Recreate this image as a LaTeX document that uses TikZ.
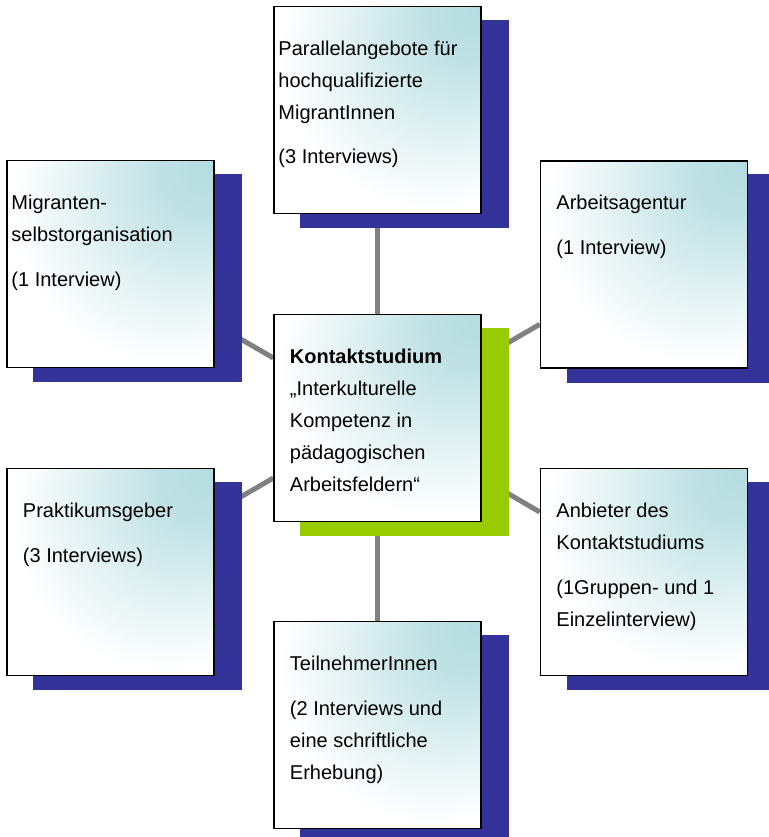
\documentclass[tikz,border=0pt]{standalone}
\usepackage{fontspec}
\setmainfont{Liberation Sans}
\usetikzlibrary{backgrounds}
\definecolor{boxcyan}{HTML}{B4DCE0}
\definecolor{shadowblue}{HTML}{333399}
\definecolor{shadowgreen}{HTML}{99CC00}
\definecolor{linkgray}{HTML}{808080}
\pgfdeclareradialshading{boxshade}{\pgfpoint{25bp}{25bp}}{color(0bp)=(boxcyan); color(10bp)=(boxcyan!85); color(24bp)=(boxcyan!40); color(37bp)=(white); color(80bp)=(white)}
\def\boxshadow[#1](#2){\fill[#1] ([shift={(27,14)}]#2.north west) rectangle ([shift={(27,14)}]#2.south east);}
\tikzset{
  box/.style={draw=black, line width=1.5pt, minimum width=207pt, minimum height=207pt, inner sep=0pt,
    shade, shading=boxshade},
  boxtext/.style={anchor=north west, inner sep=0pt, align=left, font=\fontsize{20}{32}\selectfont},
  link/.style={draw=linkgray, line width=5pt}
}

\begin{document}
\begin{tikzpicture}[x=1pt, y=-1pt]
			%%%%% FRAME %%%%%
			\useasboundingbox (0, 0) rectangle (768, 837);
			
			%%%%% BOXES %%%%%
			\node[box] (ctr) at (377.5, 418) {};
			\node[box] (par) at (377.5, 110) {};
			\node[box] (mso) at (110.5, 264) {};
			\node[box] (aag) at (644, 264.5) {};
			\node[box] (prk) at (110.5, 572) {};
			\node[box] (anb) at (644, 572) {};
			\node[box] (tln) at (377.5, 725) {};
			
			%%%%% TEXTS %%%%%
			\node[boxtext] (ctr-txt) at ([shift={(16.5, 35)}]ctr.north west)
				{\textbf{Kontaktstudium}\\„Interkulturelle\\Kompetenz in\\pädagogischen\\Arbeitsfeldern“};
			\node[boxtext] (par-txt) at ([shift={(5, 35)}]par.north west)
				{Parallelangebote für\\hochqualifizierte\\MigrantInnen\\[12pt](3 Interviews)};
			\node[boxtext] (mso-txt) at ([shift={(5, 35)}]mso.north west)
				{Migranten-\\selbstorganisation\\[13pt](1 Interview)};
			\node[boxtext] (aag-txt) at ([shift={(16.5, 35)}]aag.north west)
				{Arbeitsagentur\\[13pt](1 Interview)};
			\node[boxtext] (prk-txt) at ([shift={(16.5, 35)}]prk.north west)
				{Praktikumsgeber\\[13pt](3 Interviews)};
			\node[boxtext] (anb-txt) at ([shift={(16.5, 35)}]anb.north west)
				{Anbieter des\\Kontaktstudiums\\[13pt](1Gruppen- und 1\\Einzelinterview)};
			\node[boxtext] (tln-txt) at ([shift={(16.5, 35)}]tln.north west)
				{TeilnehmerInnen\\[13pt](2 Interviews und\\eine schriftliche\\Erhebung)};
			
			%%%%% LINKS AND SHADOWS %%%%%
			\begin{scope}[on background layer]
				\draw[link] (ctr) -- (par);
				\draw[link] (ctr) -- (mso);
				\draw[link] (ctr) -- (aag);
				\draw[link] (ctr) -- (prk);
				\draw[link] (ctr) -- (anb);
				\draw[link] (ctr) -- (tln);
				
				\boxshadow[shadowgreen](ctr)
				\boxshadow[shadowblue](par)
				\boxshadow[shadowblue](mso)
				\boxshadow[shadowblue](aag)
				\boxshadow[shadowblue](prk)
				\boxshadow[shadowblue](anb)
				\boxshadow[shadowblue](tln)
			\end{scope}
		\end{tikzpicture}
\end{document}
